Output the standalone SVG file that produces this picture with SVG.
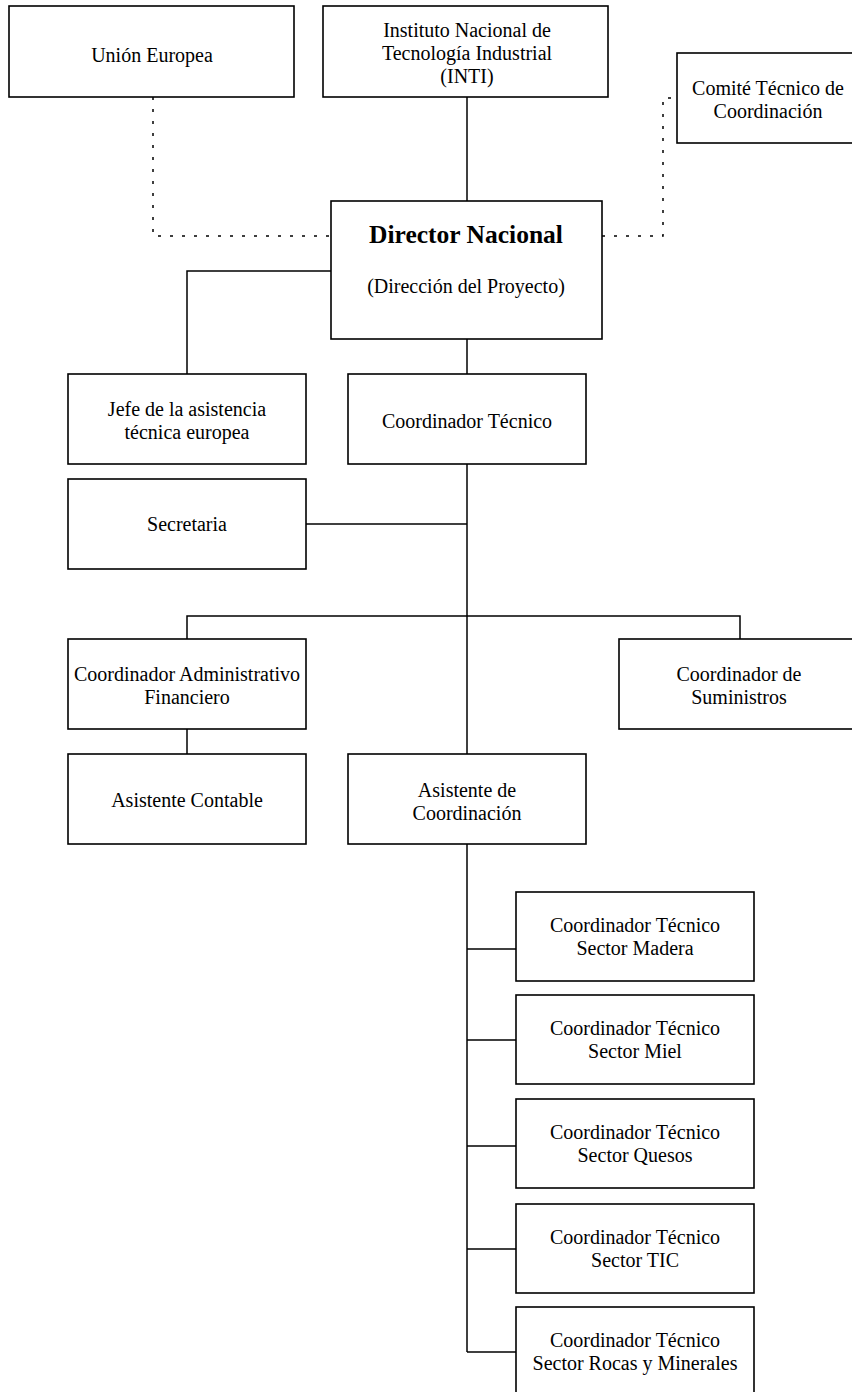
<svg xmlns="http://www.w3.org/2000/svg" width="852" height="1392" viewBox="0 0 852 1392">
<style>
.box{fill:#fff;stroke:#000;stroke-width:1.6}
.t{font-family:"Liberation Serif","Times New Roman",serif;font-size:20px;fill:#000;text-anchor:middle}
.b{font-weight:bold;font-size:25.5px}
.ln{fill:none;stroke:#000;stroke-width:1.5}
.dot{fill:none;stroke:#000;stroke-width:1.5;stroke-dasharray:3 9}
</style>
<rect width="852" height="1392" fill="#fff"/>
<g id="connectors">
<line class="ln" x1="467" y1="97" x2="467" y2="201"/>
<polyline class="dot" points="153,97 153,236 331,236"/>
<polyline class="dot" points="602,236 663,236 663,98 677,98"/>
<polyline class="ln" points="331,271 187,271 187,374"/>
<line class="ln" x1="467" y1="339" x2="467" y2="374"/>
<line class="ln" x1="467" y1="464" x2="467" y2="754"/>
<line class="ln" x1="306" y1="524" x2="467" y2="524"/>
<polyline class="ln" points="187,639 187,616 740,616 740,639"/>
<line class="ln" x1="187" y1="729" x2="187" y2="754"/>
<line class="ln" x1="467" y1="844" x2="467" y2="1352"/>
<line class="ln" x1="467" y1="949" x2="516" y2="949"/>
<line class="ln" x1="467" y1="1040" x2="516" y2="1040"/>
<line class="ln" x1="467" y1="1146" x2="516" y2="1146"/>
<line class="ln" x1="467" y1="1249" x2="516" y2="1249"/>
<line class="ln" x1="467" y1="1352" x2="516" y2="1352"/>
</g>
<g id="union-europea">
<rect class="box" x="9" y="6" width="285" height="91"/>
<text class="t" x="152" y="62">Unión Europea</text>
</g>
<g id="inti">
<rect class="box" x="323" y="6" width="285" height="91"/>
<text class="t" x="467" y="37">Instituto Nacional de</text>
<text class="t" x="467" y="60">Tecnología Industrial</text>
<text class="t" x="467" y="83">(INTI)</text>
</g>
<g id="comite">
<rect class="box" x="677" y="53" width="185" height="90"/>
<text class="t" x="768" y="95">Comité Técnico de</text>
<text class="t" x="768" y="118">Coordinación</text>
</g>
<g id="director">
<rect class="box" x="331" y="201" width="271" height="138"/>
<text class="t b" x="466" y="243">Director Nacional</text>
<text class="t" x="466" y="293">(Dirección del Proyecto)</text>
</g>
<g id="jefe">
<rect class="box" x="68" y="374" width="238" height="90"/>
<text class="t" x="187" y="416">Jefe de la asistencia</text>
<text class="t" x="187" y="439">técnica europea</text>
</g>
<g id="coord-tecnico">
<rect class="box" x="348" y="374" width="238" height="90"/>
<text class="t" x="467" y="428">Coordinador Técnico</text>
</g>
<g id="secretaria">
<rect class="box" x="68" y="479" width="238" height="90"/>
<text class="t" x="187" y="531">Secretaria</text>
</g>
<g id="coord-admin">
<rect class="box" x="68" y="639" width="238" height="90"/>
<text class="t" x="187" y="681">Coordinador Administrativo</text>
<text class="t" x="187" y="704">Financiero</text>
</g>
<g id="coord-suministros">
<rect class="box" x="619" y="639" width="240" height="90"/>
<text class="t" x="739" y="681">Coordinador de</text>
<text class="t" x="739" y="704">Suministros</text>
</g>
<g id="asistente-contable">
<rect class="box" x="68" y="754" width="238" height="90"/>
<text class="t" x="187" y="807">Asistente Contable</text>
</g>
<g id="asistente-coord">
<rect class="box" x="348" y="754" width="238" height="90"/>
<text class="t" x="467" y="797">Asistente de</text>
<text class="t" x="467" y="820">Coordinación</text>
</g>
<g id="sector-madera">
<rect class="box" x="516" y="892" width="238" height="89"/>
<text class="t" x="635" y="932">Coordinador Técnico</text>
<text class="t" x="635" y="955">Sector Madera</text>
</g>
<g id="sector-miel">
<rect class="box" x="516" y="995" width="238" height="89"/>
<text class="t" x="635" y="1035">Coordinador Técnico</text>
<text class="t" x="635" y="1058">Sector Miel</text>
</g>
<g id="sector-quesos">
<rect class="box" x="516" y="1099" width="238" height="89"/>
<text class="t" x="635" y="1139">Coordinador Técnico</text>
<text class="t" x="635" y="1162">Sector Quesos</text>
</g>
<g id="sector-tic">
<rect class="box" x="516" y="1204" width="238" height="89"/>
<text class="t" x="635" y="1244">Coordinador Técnico</text>
<text class="t" x="635" y="1267">Sector TIC</text>
</g>
<g id="sector-rocas">
<rect class="box" x="516" y="1307" width="238" height="89"/>
<text class="t" x="635" y="1347">Coordinador Técnico</text>
<text class="t" x="635" y="1370">Sector Rocas y Minerales</text>
</g>
</svg>
